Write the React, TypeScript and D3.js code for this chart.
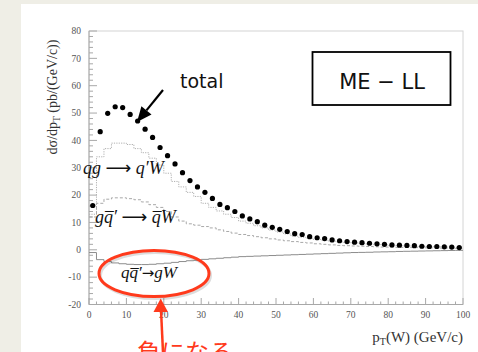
import React from 'react';
import * as d3 from 'd3';

// bin centres, 2 GeV/c bins
const ptCenters = [1, 3, 5, 7, 9, 11, 13, 15, 17, 19, 21, 23, 25, 27, 29, 31, 33, 35, 37, 39, 41, 43, 45, 47, 49,
  51, 53, 55, 57, 59, 61, 63, 65, 67, 69, 71, 73, 75, 77, 79, 81, 83, 85, 87, 89, 91, 93, 95, 97, 99];

const totalVals = [16.2, 43.2, 49.9, 52.3, 52.0, 49.5, 47.1, 44.1, 41.1, 37.4, 34.4, 31.4, 28.2, 25.3, 23.0, 21.0,
  18.8, 16.6, 15.4, 14.0, 12.4, 11.3, 10.3, 9.0, 8.2, 7.5, 6.7, 5.9, 5.6, 4.8, 4.4, 4.1, 3.6, 3.3, 3.0, 2.8, 2.6,
  2.4, 2.2, 2.0, 1.8, 1.7, 1.6, 1.5, 1.3, 1.2, 1.2, 1.1, 1.0, 0.8];

const qgVals = [13, 34, 37, 39, 39, 38.5, 37, 35.5, 33.5, 31, 28, 25, 23, 21, 19.5, 17, 15.5, 14.2, 13, 11.8,
  10.5, 9.7, 8.8, 8, 7.2, 6.5, 5.8, 5.0, 4.6, 4.2, 3.8, 3.5, 3.2, 2.9, 2.7, 2.5, 2.3, 2.1, 1.9, 1.8, 1.6, 1.5,
  1.4, 1.3, 1.2, 1.15, 1.1, 1.0, 0.95, 0.9];

const gqbarVals = [12, 17, 18.5, 19, 19, 18.7, 18.3, 17.5, 16.5, 15.5, 14, 12, 10.5, 9.5, 9, 8.5, 8, 7.3, 6.7,
  6.1, 5.6, 5.2, 4.8, 4.4, 4.0, 3.6, 3.3, 3.0, 2.7, 2.5, 2.2, 2.0, 1.8, 1.6, 1.5, 1.4, 1.3, 1.2, 1.1, 1.0, 0.95,
  0.9, 0.85, 0.8, 0.75, 0.7, 0.65, 0.6, 0.55, 0.5];

const qqbarVals = [-1, -3.6, -4.3, -4.8, -5.1, -5.3, -5.4, -5.4, -5.3, -5.1, -4.9, -4.6, -4.3, -4.0, -3.8, -3.5,
  -3.3, -3.1, -2.9, -2.7, -2.5, -2.4, -2.3, -2.2, -2.1, -2.0, -1.9, -1.8, -1.7, -1.6, -1.5, -1.4, -1.3, -1.2, -1.1,
  -1.0, -0.95, -0.9, -0.8, -0.75, -0.7, -0.6, -0.55, -0.5, -0.45, -0.4, -0.35, -0.3, -0.25, -0.2];

const yTicks = [-20, -10, 0, 10, 20, 30, 40, 50, 60, 70, 80];
const xTicks = [0, 10, 20, 30, 40, 50, 60, 70, 80, 90, 100];

const W = 478;
const H = 352;
const serif = '"Liberation Serif", "DejaVu Serif", serif';
const sans = '"DejaVu Sans", "Liberation Sans", sans-serif';
const red = '#ff3a1c';

export default function App() {
  const x = d3.scaleLinear().domain([0, 100]).range([89, 463]);
  const y = d3.scaleLinear().domain([-20, 80]).range([304.5, 31]);

  // step histogram through bin edges
  const histPath = (vals: number[]) => {
    const pts: [number, number][] = vals.map((v, i) => [ptCenters[i] - 1, v]);
    pts.push([ptCenters[ptCenters.length - 1] + 1, vals[vals.length - 1]]);
    return d3.line<[number, number]>()
      .x(d => x(d[0]))
      .y(d => y(d[1]))
      .curve(d3.curveStepAfter)(pts) || '';
  };

  const minorY = d3.range(-20, 81, 2);
  const minorX = d3.range(0, 101, 2);

  // arrow for "total"
  const a0 = [163, 90];
  const a1 = [137, 122];
  const dx = a1[0] - a0[0], dy = a1[1] - a0[1];
  const len = Math.hypot(dx, dy);
  const ux = dx / len, uy = dy / len;
  const hl = 15, hw = 6.5;
  const bx = a1[0] - ux * hl, by = a1[1] - uy * hl;
  const head = `${a1[0]},${a1[1]} ${bx - uy * hw},${by + ux * hw} ${bx + uy * hw},${by - ux * hw}`;

  return (
    <svg width={W} height={H} style={{ position: 'absolute', left: 0, top: 0, display: 'block' }}>
      <rect x={0} y={0} width={W} height={H} fill="#efeee6" />
      <rect x={21} y={4} width={W - 21} height={H - 4} fill="#ffffff" />

      {/* frame */}
      <rect x={89} y={31} width={374} height={273.5} fill="none" stroke="#d4d4d4" strokeWidth={1} />
      <line x1={89} x2={89} y1={31} y2={304.5} stroke="#a8a8a8" />
      <line x1={89} x2={463} y1={304.5} y2={304.5} stroke="#a8a8a8" />

      {/* y ticks */}
      {minorY.map(v => (
        <line key={'my' + v} x1={89} x2={v % 10 === 0 ? 97 : 93} y1={y(v)} y2={y(v)} stroke="#a8a8a8" />
      ))}
      {yTicks.map(v => (
        <text key={'ty' + v} x={81} y={y(v) + 3.3} textAnchor="end" fontFamily={serif} fontSize={9.5} fill="#555">{v}</text>
      ))}
      {/* x ticks */}
      {minorX.map(v => (
        <line key={'mx' + v} x1={x(v)} x2={x(v)} y1={304.5} y2={v % 10 === 0 ? 298 : 301.5} stroke="#a8a8a8" />
      ))}
      {xTicks.map(v => (
        <text key={'tx' + v} x={x(v)} y={317.5} textAnchor="middle" fontFamily={serif} fontSize={9.5} fill="#555">{v}</text>
      ))}

      {/* histograms */}
      <path d={histPath(qgVals)} fill="none" stroke="#b0b0b0" strokeWidth={1} strokeDasharray="1.2,1.2" />
      <path d={histPath(gqbarVals)} fill="none" stroke="#a8a8a8" strokeWidth={1} strokeDasharray="3,2" />
      <path d={histPath(qqbarVals)} fill="none" stroke="#8c8c8c" strokeWidth={1} />

      {/* total points */}
      {totalVals.map((v, i) => (
        <circle key={'p' + i} cx={x(ptCenters[i])} cy={y(v)} r={2.6} fill="#000" />
      ))}

      {/* axis titles */}
      <text transform="translate(57,97) rotate(-90)" textAnchor="middle" fontFamily={serif} fontSize={14} fill="#333">
        dσ/dp<tspan fontSize={9.5} dy={3}>T</tspan><tspan dy={-3}> (pb/(GeV/c))</tspan>
      </text>
      <text x={463} y={341.5} textAnchor="end" fontFamily={serif} fontSize={15} fill="#333">
        p<tspan fontSize={10} dy={3}>T</tspan><tspan dy={-3}>(W) (GeV/c)</tspan>
      </text>

      {/* process labels */}
      <text x={83} y={174} fontFamily={serif} fontStyle="italic" fontSize={18} fill="#111">
        qg <tspan fontStyle="normal" fontFamily={sans}>⟶</tspan> q′W
      </text>
      <text x={95} y={223} fontFamily={serif} fontStyle="italic" fontSize={18} fill="#111">
        gq̅′ <tspan fontStyle="normal" fontFamily={sans}>⟶</tspan> q̅W
      </text>
      <text x={121} y={278} fontFamily={serif} fontStyle="italic" fontSize={17} fill="#111">
        qq̅′<tspan fontStyle="normal" fontFamily={sans} fontSize={15}>→</tspan>gW
      </text>

      {/* total annotation */}
      <text x={180} y={88} fontFamily={sans} fontSize={19} fill="#111">total</text>
      <line x1={a0[0]} y1={a0[1]} x2={bx} y2={by} stroke="#000" strokeWidth={2.2} />
      <polygon points={head} fill="#000" />

      {/* ME - LL box */}
      <rect x={312.5} y={52} width={138} height={53} fill="#fff" stroke="#000" strokeWidth={1.8} />
      <text x={382} y={89} textAnchor="middle" fontFamily={sans} fontSize={21} fill="#111">ME − LL</text>

      {/* red annotation */}
      <ellipse cx={154} cy={273.5} rx={55} ry={23} fill="none" stroke="#00000022" strokeWidth={3} transform="translate(1.5,2)" />
      <ellipse cx={154} cy={273.5} rx={55} ry={23} fill="none" stroke={red} strokeWidth={3} />
      <line x1={163} y1={352} x2={161} y2={310} stroke={red} strokeWidth={2.5} />
      <polygon points="160.7,298.5 153.5,312 168,312" fill={red} />
      <text x={137} y={361} fontFamily='"Noto Sans CJK JP", sans-serif' fontSize={24} fill={red}>負になる</text>
    </svg>
  );
}
